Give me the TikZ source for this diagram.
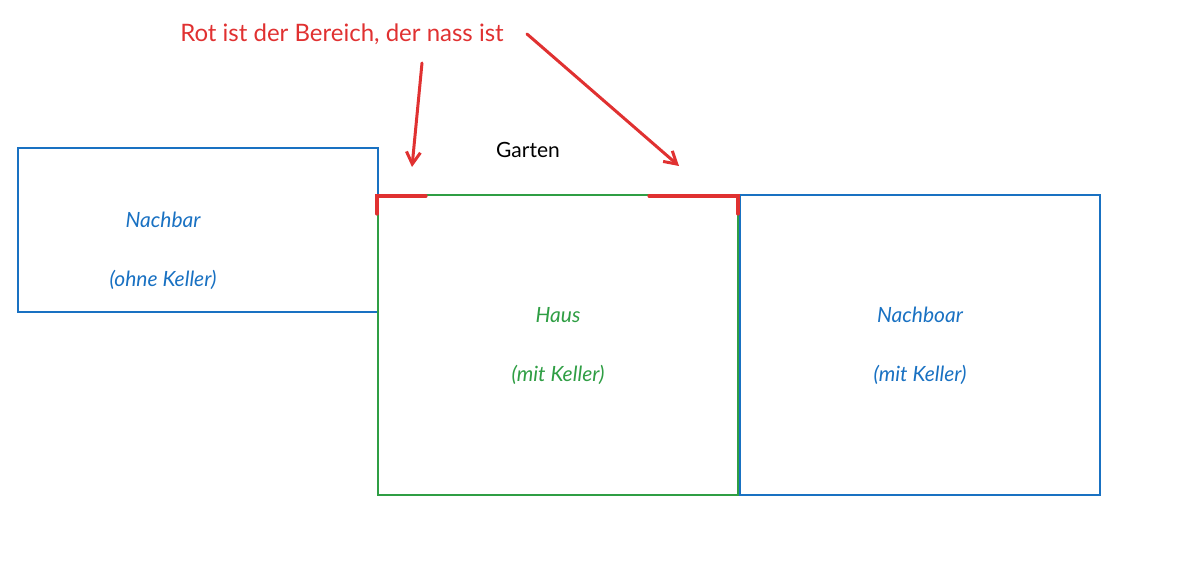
\documentclass[tikz,border=0pt]{standalone}
\usepackage{fontspec}
\setmainfont{Lato}
\usetikzlibrary{arrows.meta}
\definecolor{exblue}{HTML}{1971C2}
\definecolor{exgreen}{HTML}{2F9E44}
\definecolor{exred}{HTML}{E03131}
\begin{document}
\begin{tikzpicture}[x=0.5pt,y=-0.5pt,
  box/.style={draw,line width=0.7pt},
  lbl/.style={font=\fontsize{10.5}{12}\selectfont\itshape},
  redline/.style={exred,line width=1.6pt,line cap=round},
  redarrow/.style={exred,line width=1.5pt,line cap=round,-{Straight Barb[length=6pt,width=7pt]}}]
\useasboundingbox (0,0) rectangle (1198,565);
\draw[box,exblue] (18,148) rectangle (378,312);
\draw[box,exgreen] (378,195) rectangle (738,495);
\draw[box,exblue] (740,195) rectangle (1100,495);
\node[lbl,exblue] (n1) at (163,220) {Nachbar};
\node[lbl,exblue] (n2) at (163,280) {(ohne Keller)};
\node[lbl,exgreen] (h1) at (558,315) {Haus};
\node[lbl,exgreen] (h2) at (558,375) {(mit Keller)};
\node[lbl,exblue] (r1) at (920,315) {Nachboar};
\node[lbl,exblue] (r2) at (920,375) {(mit Keller)};
\node[font=\fontsize{10.5}{12}\selectfont] (g) at (528,150) {Garten};
\node[exred,font=\fontsize{12}{14}\selectfont] (t) at (342,34) {Rot ist der Bereich, der nass ist};
\coordinate (a1s) at (422,63); \coordinate (a1e) at (412,167);
\coordinate (a2s) at (527,34); \coordinate (a2e) at (679,166);
\draw[redarrow] (a1s) -- (a1e);
\draw[redarrow] (a2s) -- (a2e);
\coordinate (l1) at (377,214); \coordinate (l2) at (377,196); \coordinate (l3) at (426,196);
\coordinate (m1) at (649,196); \coordinate (m2) at (738,196); \coordinate (m3) at (738,214);
\draw[redline] (l1) -- (l2) -- (l3);
\draw[redline] (m1) -- (m2) -- (m3);
\end{tikzpicture}
\end{document}
